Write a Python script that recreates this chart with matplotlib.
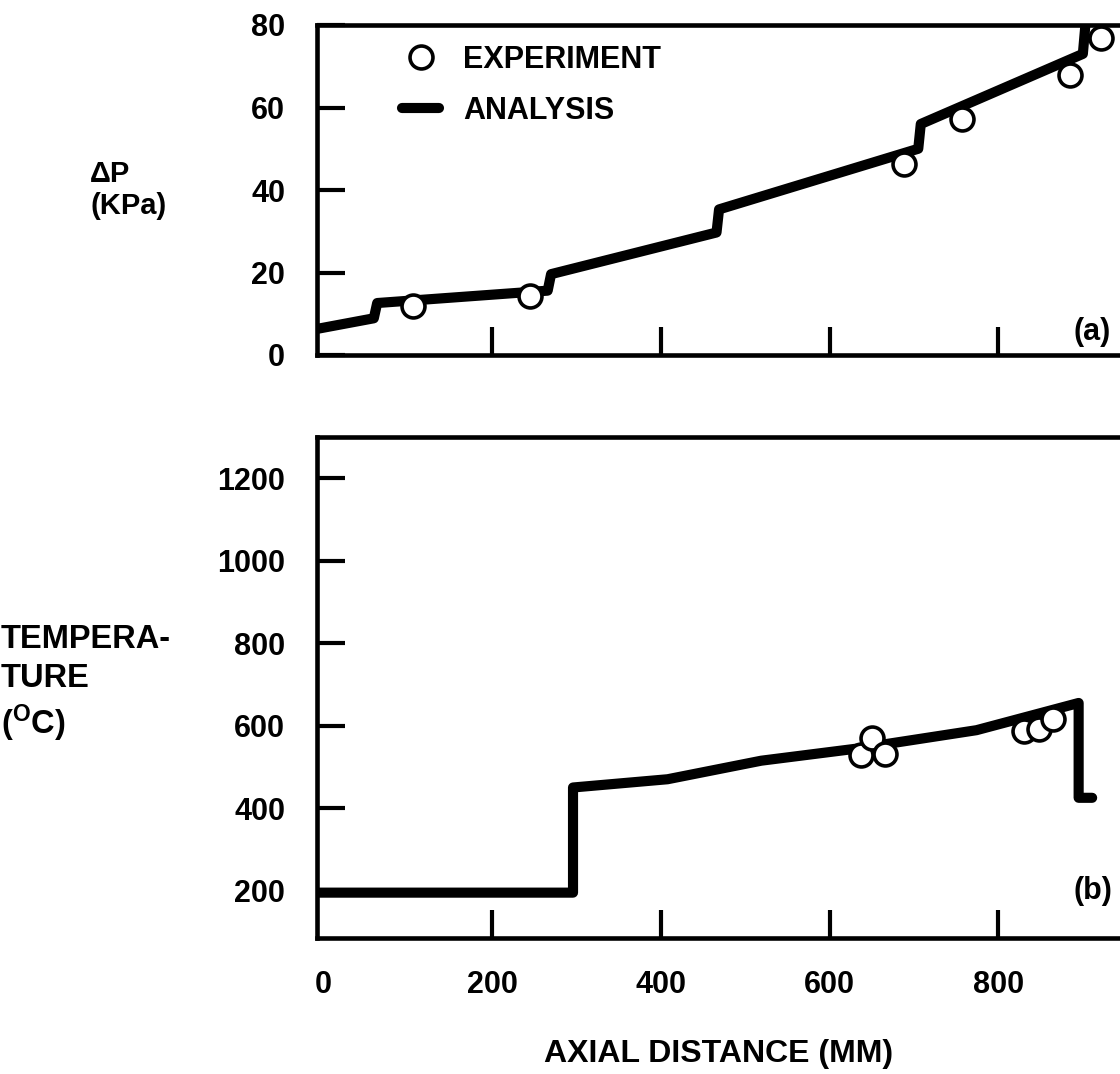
import matplotlib
matplotlib.use("Agg")
import matplotlib.pyplot as plt
from matplotlib.lines import Line2D
from matplotlib.transforms import blended_transform_factory

# (a) pressure drop, kPa vs axial distance, mm
dp_exp_x = [107, 245, 688, 757, 885, 921]
dp_exp_y = [11.8, 14.2, 46.4, 57.2, 67.9, 76.8]
dp_ana_x = [-8, 60, 64, 266, 270, 466, 469, 705, 708, 900, 903]
dp_ana_y = [6.3, 8.9, 12.6, 15.6, 19.6, 29.7, 35.3, 50.0, 56.0, 73.0, 80.0]

# (b) temperature, deg C vs axial distance, mm
t_exp_x = [637, 650, 666, 830, 848, 865]
t_exp_y = [528, 570, 531, 586, 592, 615]
t_ana_x = [-8, 296, 296, 408, 519, 631, 774, 895, 895, 911]
t_ana_y = [195, 195, 450, 470, 515, 544, 589, 655, 425, 425]

x_ticks = [0, 200, 400, 600, 800]
dp_ticks = [0, 20, 40, 60, 80]
t_ticks = [200, 400, 600, 800, 1000, 1200]

plt.rcParams["font.family"] = ["Liberation Sans", "DejaVu Sans"]
plt.rcParams["font.weight"] = "bold"
plt.rcParams["mathtext.default"] = "regular"

W, H = 1120, 1074
fig = plt.figure(figsize=(W / 100, H / 100), dpi=100)


def box(l, t, r, b):
    return [l / W, 1 - b / H, (r - l) / W, (b - t) / H]


ax1 = fig.add_axes(box(317, 25, 1120, 355))
ax2 = fig.add_axes(box(317, 437, 1120, 938))

line_kw = dict(color="black", lw=7.3, solid_capstyle="round", solid_joinstyle="round", zorder=2)
mark_kw = dict(ls="none", marker="o", ms=16.5, mfc="white", mec="black", mew=2.6, zorder=3)

for ax in (ax1, ax2):
    ax.set_xlim(-7.3, 944)
    for side in ("left", "top", "bottom"):
        ax.spines[side].set_linewidth(3.3)
    ax.spines["right"].set_visible(False)
    ax.tick_params(direction="in", length=20, width=3.0, labelsize=22, pad=23,
                   right=False, top=False)

ax1.plot(dp_ana_x, dp_ana_y, **line_kw)
ax1.plot(dp_exp_x, dp_exp_y, **mark_kw)
ax1.set_ylim(0, 80)
ax1.set_yticks(dp_ticks)
ax1.set_xticks(x_ticks[1:])
ax1.set_xticklabels([])

ax2.plot(t_ana_x, t_ana_y, **line_kw)
ax2.plot(t_exp_x, t_exp_y, **mark_kw)
ax2.set_ylim(85, 1300)
ax2.set_yticks(t_ticks)
ax2.set_xticks(x_ticks)
ax2.xaxis.get_major_ticks()[0].tick1line.set_visible(False)
ax2.set_xlabel("AXIAL DISTANCE (MM)", fontsize=23, fontweight="bold", labelpad=28)

handles = [
    Line2D([], [], **{k: v for k, v in mark_kw.items() if k != "zorder"}),
    Line2D([], [], color="black", lw=7.3, solid_capstyle="round"),
]
ax1.legend(handles, ["EXPERIMENT", "ANALYSIS"], loc="upper left",
           bbox_to_anchor=(93.7, 75.2), bbox_transform=ax1.transData,
           frameon=False, fontsize=22, handlelength=1.2, handletextpad=0.8,
           labelspacing=0.68, borderpad=0, borderaxespad=0)

ax1.text(889, 5.6, "(a)", fontsize=22, va="center", ha="left")
ax2.text(889, 200, "(b)", fontsize=22, va="center", ha="left")

fig.text(90 / W, 1 - 190 / H, "\u0394P\n(KPa)", fontsize=21, ha="left", va="center",
         multialignment="left", linespacing=1.2)
tr = blended_transform_factory(fig.transFigure, ax2.transData)
fig.text(1 / W, 700, "TEMPERA-\nTURE\n($^{O}$C)", transform=tr, fontsize=23.5,
         ha="left", va="center", multialignment="left", linespacing=1.3)

fig.savefig("out.png", dpi=100)
